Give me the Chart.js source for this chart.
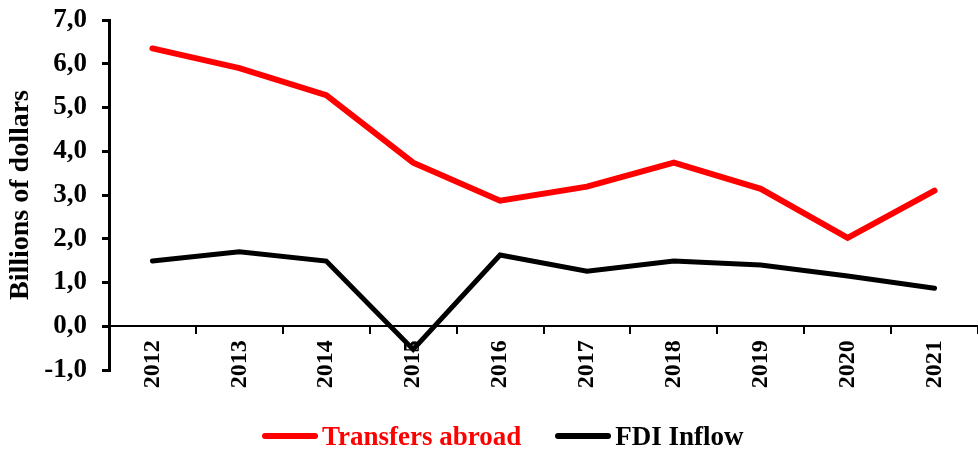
<!DOCTYPE html>
<html>
<head>
<meta charset="utf-8">
<script src="https://cdn.jsdelivr.net/npm/chart.js@4/dist/chart.umd.min.js"></script>
<style>
    html, body { margin: 0; padding: 0; background: #fff; overflow: hidden; }
    #wrap { position: relative; width: 978px; height: 450px; }
    #legend {
        position: absolute; left: 262px; top: 420px; height: 32px;
        display: flex; align-items: center;
        font-family: 'Liberation Serif', 'Times New Roman', serif;
        font-weight: bold; font-size: 27px; line-height: 32px;
    }
    #legend .item { display: flex; align-items: center; margin-right: 34px; }
    #legend .swatch { width: 56px; height: 6px; border-radius: 3px; margin-right: 4px; }
</style>
</head>
<body>
<div id="wrap">
    <canvas id="chart"></canvas>
    <div id="legend"></div>
</div>
<script>
// Data (billions of dollars)
const years = ['2012', '2013', '2014', '2015', '2016', '2017', '2018', '2019', '2020', '2021'];
const transfersAbroad = [6.35, 5.90, 5.28, 3.74, 2.87, 3.19, 3.74, 3.14, 2.02, 3.10];
const fdiInflow = [1.49, 1.70, 1.49, -0.53, 1.63, 1.26, 1.49, 1.40, 1.15, 0.87];

const serif = "'Liberation Serif', 'Times New Roman', serif";

const ctx = document.getElementById('chart').getContext('2d');

const chart = new Chart(ctx, {
    type: 'line',
    data: {
        labels: years,
        datasets: [
            {
                label: 'Transfers abroad',
                data: transfersAbroad,
                borderColor: '#ff0000',
                borderWidth: 6,
                pointRadius: 0,
                tension: 0,
                borderCapStyle: 'round'
            },
            {
                label: 'FDI Inflow',
                data: fdiInflow,
                borderColor: '#000000',
                borderWidth: 5,
                pointRadius: 0,
                tension: 0,
                borderCapStyle: 'round'
            }
        ]
    },
    options: {
        responsive: true,
        maintainAspectRatio: false,
        animation: false,
        layout: {
            // bottom space holds the rotated year labels and the html legend
            padding: { top: 20, right: 0, bottom: 80, left: 0 }
        },
        plugins: {
            tooltip: { enabled: false },
            legend: { display: false }
        },
        scales: {
            x: {
                type: 'category',
                position: { y: 0 }, // axis line crosses at zero
                offset: true,
                border: { display: true, color: '#000', width: 2 },
                grid: {
                    offset: true,
                    drawOnChartArea: false,
                    tickLength: 7,
                    color: '#000',
                    lineWidth: 2
                },
                ticks: {
                    color: '#000',
                    font: { family: serif, size: 24, weight: 'bold' },
                    minRotation: 90,
                    maxRotation: 90,
                    padding: 7,
                    autoSkip: false
                }
            },
            y: {
                min: -1,
                max: 7,
                afterFit: (scale) => {
                    scale.width = 109;
                    scale.paddingTop = 0; // let layout padding decide where 7,0 sits
                },
                border: { display: true, color: '#000', width: 3 },
                grid: {
                    drawOnChartArea: false,
                    tickLength: 7,
                    color: '#000',
                    lineWidth: 3
                },
                ticks: {
                    stepSize: 1,
                    color: '#000',
                    padding: 15,
                    font: { family: serif, size: 27, weight: 'bold' },
                    callback: (v) => Number(v).toFixed(1).replace('.', ',')
                },
                title: {
                    display: true,
                    text: 'Billions of dollars',
                    color: '#000',
                    font: { family: serif, size: 28, weight: 'bold' },
                    padding: { top: 4, bottom: 4 }
                }
            }
        }
    }
});

// html legend built from the datasets
const legendEl = document.getElementById('legend');
chart.data.datasets.forEach(ds => {
    const item = document.createElement('div');
    item.className = 'item';
    const swatch = document.createElement('span');
    swatch.className = 'swatch';
    swatch.style.background = ds.borderColor;
    const text = document.createElement('span');
    text.textContent = ds.label;
    text.style.color = ds.borderColor;
    item.appendChild(swatch);
    item.appendChild(text);
    legendEl.appendChild(item);
});
</script>
</body>
</html>
